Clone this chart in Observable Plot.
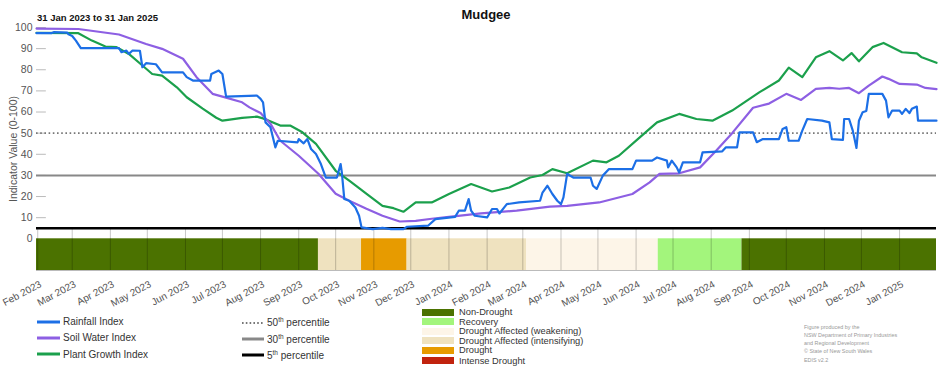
<!DOCTYPE html>
<html>
<head>
<meta charset="utf-8">
<script src="https://cdn.jsdelivr.net/npm/d3@7"></script>
<script src="https://cdn.jsdelivr.net/npm/@observablehq/plot@0.6"></script>
<style>
  body { margin: 0; background: #fff; font-family: "Liberation Sans", Arial, sans-serif; }
  #wrap { position: relative; width: 952px; height: 370px; overflow: hidden; }
  #head { position: relative; height: 20px; }
  #title { position: absolute; left: 36px; width: 900px; top: 8px; text-align: center; font-weight: bold; font-size: 13px; line-height: 1; color: #111; }
  #sub { position: absolute; left: 37px; top: 13px; font-weight: bold; font-size: 9.5px; line-height: 1; color: #111; }
  .row { position: absolute; height: 12px; display: flex; align-items: center; white-space: nowrap; color: #333; }
  .row svg { flex: none; }
  .lt { font-size: 10px; margin-left: 3px; }
  .lt sup { font-size: 6.5px; vertical-align: 4px; line-height: 0; }
  .dt { font-size: 9.3px; margin-left: 5px; }
  .cred { position: absolute; left: 804px; font-size: 5.4px; color: #999; line-height: 1; white-space: nowrap; }
</style>
</head>
<body>
<div id="wrap">
  <div id="head">
    <div id="title">Mudgee</div>
    <div id="sub">31 Jan 2023 to 31 Jan 2025</div>
  </div>
  <div id="chart"></div>
  <div id="legend"></div>
</div>
<script>
// ---------- data ----------
const startDate = "2023-01-31";
const endDate = "2025-01-31";

const seriesNames = ["Rainfall Index", "Soil Water Index", "Plant Growth Index"];
const seriesColors = ["#1c6fe6", "#8d5fe3", "#1ba04c"];

const rainfall = [
  ["2023-01-31", 97.3], ["2023-02-12", 97.3], ["2023-02-14", 97.8], ["2023-02-25", 97.6], ["2023-02-26", 96.8],
  ["2023-03-01", 96.0], ["2023-03-04", 93.8], ["2023-03-08", 90.2], ["2023-04-08", 90.2], ["2023-04-10", 88.3],
  ["2023-04-14", 89.1], ["2023-04-16", 87.5], ["2023-04-19", 89.1], ["2023-04-25", 89.0], ["2023-04-27", 81.2],
  ["2023-04-30", 83.1], ["2023-05-08", 82.6], ["2023-05-13", 78.8], ["2023-05-30", 78.8], ["2023-06-02", 76.5],
  ["2023-06-07", 74.9], ["2023-06-21", 74.9], ["2023-06-22", 78.0], ["2023-06-28", 79.6], ["2023-07-01", 78.0],
  ["2023-07-04", 67.3], ["2023-07-29", 67.8], ["2023-08-01", 66.2], ["2023-08-03", 64.6], ["2023-08-05", 55.1],
  ["2023-08-09", 52.8], ["2023-08-13", 43.3], ["2023-08-15", 46.4], ["2023-08-31", 45.6], ["2023-09-01", 47.2],
  ["2023-09-05", 45.2], ["2023-09-08", 47.2], ["2023-09-11", 42.5], ["2023-09-15", 40.1], ["2023-09-19", 35.4],
  ["2023-09-23", 29.0], ["2023-10-02", 29.0], ["2023-10-05", 35.4], ["2023-10-06", 31.4], ["2023-10-08", 18.8],
  ["2023-10-12", 18.0], ["2023-10-17", 14.8], ["2023-10-20", 10.9], ["2023-10-22", 5.4], ["2023-10-31", 4.6],
  ["2023-11-08", 5.2], ["2023-11-15", 4.6], ["2023-11-25", 4.6], ["2023-11-28", 5.7], ["2023-12-15", 6.2],
  ["2023-12-21", 9.3], ["2024-01-06", 10.4], ["2024-01-09", 13.3], ["2024-01-14", 13.3], ["2024-01-17", 18.8],
  ["2024-01-19", 13.3], ["2024-01-22", 10.9], ["2024-02-01", 10.1], ["2024-02-05", 14.1], ["2024-02-09", 14.1],
  ["2024-02-11", 12.0], ["2024-02-17", 16.4], ["2024-02-27", 17.2], ["2024-03-15", 18.0], ["2024-03-17", 21.9],
  ["2024-03-21", 25.1], ["2024-03-25", 21.2], ["2024-03-29", 18.0], ["2024-04-01", 16.4], ["2024-04-03", 19.6],
  ["2024-04-06", 30.7], ["2024-04-11", 29.0], ["2024-04-25", 29.0], ["2024-04-27", 25.1], ["2024-04-30", 23.6],
  ["2024-05-05", 29.9], ["2024-05-10", 33.0], ["2024-05-29", 33.0], ["2024-06-01", 37.0], ["2024-06-14", 37.0],
  ["2024-06-18", 38.5], ["2024-06-26", 37.0], ["2024-06-27", 33.8], ["2024-06-30", 37.0], ["2024-07-04", 33.8],
  ["2024-07-06", 31.4], ["2024-07-09", 36.2], ["2024-07-23", 36.2], ["2024-07-25", 40.9], ["2024-08-10", 41.4],
  ["2024-08-13", 43.3], ["2024-08-22", 43.3], ["2024-08-24", 50.4], ["2024-09-04", 50.4], ["2024-09-07", 45.7],
  ["2024-09-12", 47.2], ["2024-09-25", 47.2], ["2024-09-28", 52.0], ["2024-10-01", 52.8], ["2024-10-03", 46.4],
  ["2024-10-11", 46.4], ["2024-10-14", 51.2], ["2024-10-18", 56.7], ["2024-10-30", 55.9], ["2024-11-05", 55.1],
  ["2024-11-07", 47.2], ["2024-11-16", 46.8], ["2024-11-17", 56.7], ["2024-11-21", 56.7], ["2024-11-24", 51.2],
  ["2024-11-27", 43.0], ["2024-11-29", 55.9], ["2024-12-02", 59.9], ["2024-12-05", 60.5], ["2024-12-07", 68.6],
  ["2024-12-18", 68.6], ["2024-12-21", 65.4], ["2024-12-23", 57.5], ["2024-12-26", 60.7], ["2025-01-01", 60.7],
  ["2025-01-03", 59.1], ["2025-01-06", 61.5], ["2025-01-09", 59.5], ["2025-01-11", 61.5], ["2025-01-15", 62.6],
  ["2025-01-16", 55.9], ["2025-01-31", 55.9]
];

const soilWater = [
  ["2023-01-31", 99.5], ["2023-03-06", 99.3], ["2023-04-08", 96.7], ["2023-04-30", 92.2], ["2023-05-13", 89.9],
  ["2023-05-30", 85.2], ["2023-06-10", 76.5], ["2023-06-23", 68.6], ["2023-07-01", 67.3], ["2023-07-17", 64.6],
  ["2023-07-23", 62.2], ["2023-08-01", 59.5], ["2023-08-09", 54.5], ["2023-08-17", 46.4], ["2023-09-01", 39.3],
  ["2023-09-17", 30.8], ["2023-10-01", 21.3], ["2023-10-12", 18.0], ["2023-10-26", 14.2], ["2023-11-08", 10.9],
  ["2023-11-22", 8.2], ["2023-12-05", 8.5], ["2023-12-18", 9.5], ["2024-01-01", 10.4], ["2024-01-27", 12.0],
  ["2024-02-25", 13.3], ["2024-03-23", 15.2], ["2024-04-06", 15.6], ["2024-05-02", 17.2], ["2024-05-29", 21.2],
  ["2024-06-12", 26.7], ["2024-06-20", 30.7], ["2024-07-06", 31.0], ["2024-07-23", 33.8], ["2024-08-05", 41.7],
  ["2024-08-18", 50.0], ["2024-09-04", 62.0], ["2024-09-17", 64.0], ["2024-10-01", 68.6], ["2024-10-13", 65.7],
  ["2024-10-25", 71.0], ["2024-11-05", 71.4], ["2024-11-13", 71.0], ["2024-11-21", 71.4], ["2024-11-29", 68.9],
  ["2024-12-07", 72.5], ["2024-12-18", 76.8], ["2024-12-23", 75.7], ["2025-01-01", 73.3], ["2025-01-15", 73.0],
  ["2025-01-22", 71.4], ["2025-01-31", 70.8]
];

const plantGrowth = [
  ["2023-01-31", 97.5], ["2023-03-06", 97.3], ["2023-03-17", 93.8], ["2023-03-28", 91.0], ["2023-04-06", 90.7],
  ["2023-04-16", 87.5], ["2023-04-27", 82.0], ["2023-05-05", 78.0], ["2023-05-13", 77.2], ["2023-05-25", 71.7],
  ["2023-06-02", 67.0], ["2023-06-15", 61.6], ["2023-06-26", 57.3], ["2023-07-01", 55.9], ["2023-07-07", 56.4],
  ["2023-07-17", 57.2], ["2023-07-29", 57.8], ["2023-08-03", 57.0], ["2023-08-17", 53.6], ["2023-08-25", 53.6],
  ["2023-09-04", 50.4], ["2023-09-15", 44.9], ["2023-10-01", 32.2], ["2023-10-12", 27.5], ["2023-10-28", 20.4],
  ["2023-11-08", 15.6], ["2023-11-17", 14.5], ["2023-11-25", 12.8], ["2023-12-05", 17.2], ["2023-12-18", 17.2],
  ["2024-01-01", 21.2], ["2024-01-19", 25.9], ["2024-02-05", 22.4], ["2024-02-19", 24.3], ["2024-03-07", 29.0],
  ["2024-03-17", 30.2], ["2024-03-25", 33.0], ["2024-04-06", 31.0], ["2024-04-27", 37.0], ["2024-05-08", 36.2],
  ["2024-05-18", 39.3], ["2024-06-04", 48.0], ["2024-06-18", 55.1], ["2024-07-06", 59.1], ["2024-07-20", 56.7],
  ["2024-08-02", 55.9], ["2024-08-18", 60.7], ["2024-09-09", 69.3], ["2024-09-25", 74.9], ["2024-10-03", 81.0],
  ["2024-10-14", 76.5], ["2024-10-25", 85.9], ["2024-11-05", 88.8], ["2024-11-16", 84.4], ["2024-11-23", 87.9],
  ["2024-11-29", 84.0], ["2024-12-10", 90.7], ["2024-12-19", 92.7], ["2025-01-03", 88.3], ["2025-01-15", 87.8],
  ["2025-01-19", 85.9], ["2025-01-31", 83.3]
];

const percentiles = [50, 30, 5];
const percentileLabels = ["50", "30", "5"];

const droughtCategories = ["Non-Drought", "Recovery", "Drought Affected (weakening)", "Drought Affected (intensifying)", "Drought", "Intense Drought"];
const droughtColors = ["#4b7200", "#a3f57c", "#fdf5e8", "#efe2bf", "#e79b00", "#c1230e"];
const droughtStarts = ["2023-01-31", "2023-09-17", "2023-10-22", "2023-11-28", "2024-03-04", "2024-06-19", "2024-08-26"];
const droughtEnds   = ["2023-09-17", "2023-10-22", "2023-11-28", "2024-03-04", "2024-06-19", "2024-08-26", "2025-01-31"];
const droughtStatus = ["Non-Drought", "Drought Affected (intensifying)", "Drought", "Drought Affected (intensifying)", "Drought Affected (weakening)", "Recovery", "Non-Drought"];

const yTicks = [0, 10, 20, 30, 40, 50, 60, 70, 80, 90, 100];
const bandDepth = 15;

const credits = ["Figure produced by the", "NSW Department of Primary Industries", "and Regional Development", "\u00A9 State of New South Wales", "EDIS v2.2"];

// ---------- build ----------
const parse = d3.utcParse("%Y-%m-%d");
const x0 = parse(startDate), x1 = parse(endDate);
const monthTicks = d3.utcMonth.range(d3.utcMonth.ceil(x0), x1);
const toRows = pairs => pairs.map(([d, v]) => ({date: parse(d), value: v}));
const seriesData = [toRows(rainfall), toRows(soilWater), toRows(plantGrowth)];
const bandRows = droughtStatus.map((s, i) => ({start: parse(droughtStarts[i]), end: parse(droughtEnds[i]), status: s}));

const chart = Plot.plot({
  width: 952,
  height: 282,
  marginLeft: 36,
  marginRight: 16,
  marginTop: 7,
  marginBottom: 32,
  style: {fontFamily: "Liberation Sans, Arial, sans-serif", fontSize: "10.5px", color: "#555", background: "transparent", overflow: "visible"},
  x: {type: "utc", domain: [x0, x1]},
  y: {domain: [-bandDepth, 100]},
  color: {domain: droughtCategories, range: droughtColors},
  marks: [
    Plot.rectY(bandRows, {x1: "start", x2: "end", y1: 0, y2: -bandDepth, fill: "status"}),
    Plot.ruleX(monthTicks, {y1: -bandDepth, y2: 4.5, stroke: "#000", strokeOpacity: 0.22}),
    Plot.ruleY([-bandDepth], {stroke: "#aaa", strokeWidth: 0.8}),
    Plot.ruleY(yTicks.filter(d => d > 0), {x1: x0, x2: d3.utcDay.offset(x0, 8), stroke: "#bbb"}),
    Plot.ruleY([percentiles[0]], {stroke: "#777", strokeWidth: 1.6, strokeDasharray: "1.6,2.6"}),
    Plot.ruleY([percentiles[1]], {stroke: "#888", strokeWidth: 2}),
    Plot.ruleY([percentiles[2]], {stroke: "#000", strokeWidth: 2.6}),
    Plot.line(seriesData[2], {x: "date", y: "value", stroke: seriesColors[2], strokeWidth: 2.2}),
    Plot.line(seriesData[1], {x: "date", y: "value", stroke: seriesColors[1], strokeWidth: 2.2}),
    Plot.line(seriesData[0], {x: "date", y: "value", stroke: seriesColors[0], strokeWidth: 2.2}),
    Plot.axisY({ticks: yTicks, tickSize: 0, tickPadding: 4, label: "Indicator Value (0-100)", labelAnchor: "center", labelArrow: "none", labelOffset: 27}),
    Plot.axisX({ticks: monthTicks, tickFormat: d3.utcFormat("%b %Y"), tickRotate: -28, tickSize: 0, tickPadding: 13, dx: 3, fontSize: 10, label: null})
  ]
});
document.getElementById("chart").appendChild(chart);

// ---------- legend ----------
const legend = document.getElementById("legend");
function addRow(left, cy, inner) {
  const div = document.createElement("div");
  div.className = "row";
  div.style.left = left + "px";
  div.style.top = (cy - 6) + "px";
  div.innerHTML = inner;
  legend.appendChild(div);
}
const seriesRowsY = [321.7, 337.7, 354.3];
seriesNames.forEach((n, i) => {
  addRow(37, seriesRowsY[i], `<svg width="23" height="6"><line x1="0" x2="23" y1="3" y2="3" stroke="${seriesColors[i]}" stroke-width="3"/></svg><span class="lt">${n}</span>`);
});
const pctRowsY = [322.7, 339.2, 355];
const pctStyles = [
  'stroke="#777" stroke-width="2" stroke-dasharray="1.6,2.2"',
  'stroke="#888" stroke-width="3"',
  'stroke="#000" stroke-width="3"'
];
percentileLabels.forEach((p, i) => {
  addRow(242, pctRowsY[i], `<svg width="22" height="6"><line x1="0" x2="22" y1="3" y2="3" ${pctStyles[i]}/></svg><span class="lt">${p}<sup>th</sup> percentile</span>`);
});
const dRowsY = [312.3, 321.9, 331.4, 340.8, 350.3, 360.6];
droughtCategories.forEach((c, i) => {
  addRow(422, dRowsY[i], `<svg width="32" height="7"><rect width="32" height="7" fill="${droughtColors[i]}"/></svg><span class="dt">${c}</span>`);
});
const credY = [327.7, 335.7, 344.1, 352.3, 360.8];
credits.forEach((t, i) => {
  const d = document.createElement("div");
  d.className = "cred";
  d.style.top = (credY[i] - 3) + "px";
  d.textContent = t;
  legend.appendChild(d);
});
</script>
</body>
</html>
